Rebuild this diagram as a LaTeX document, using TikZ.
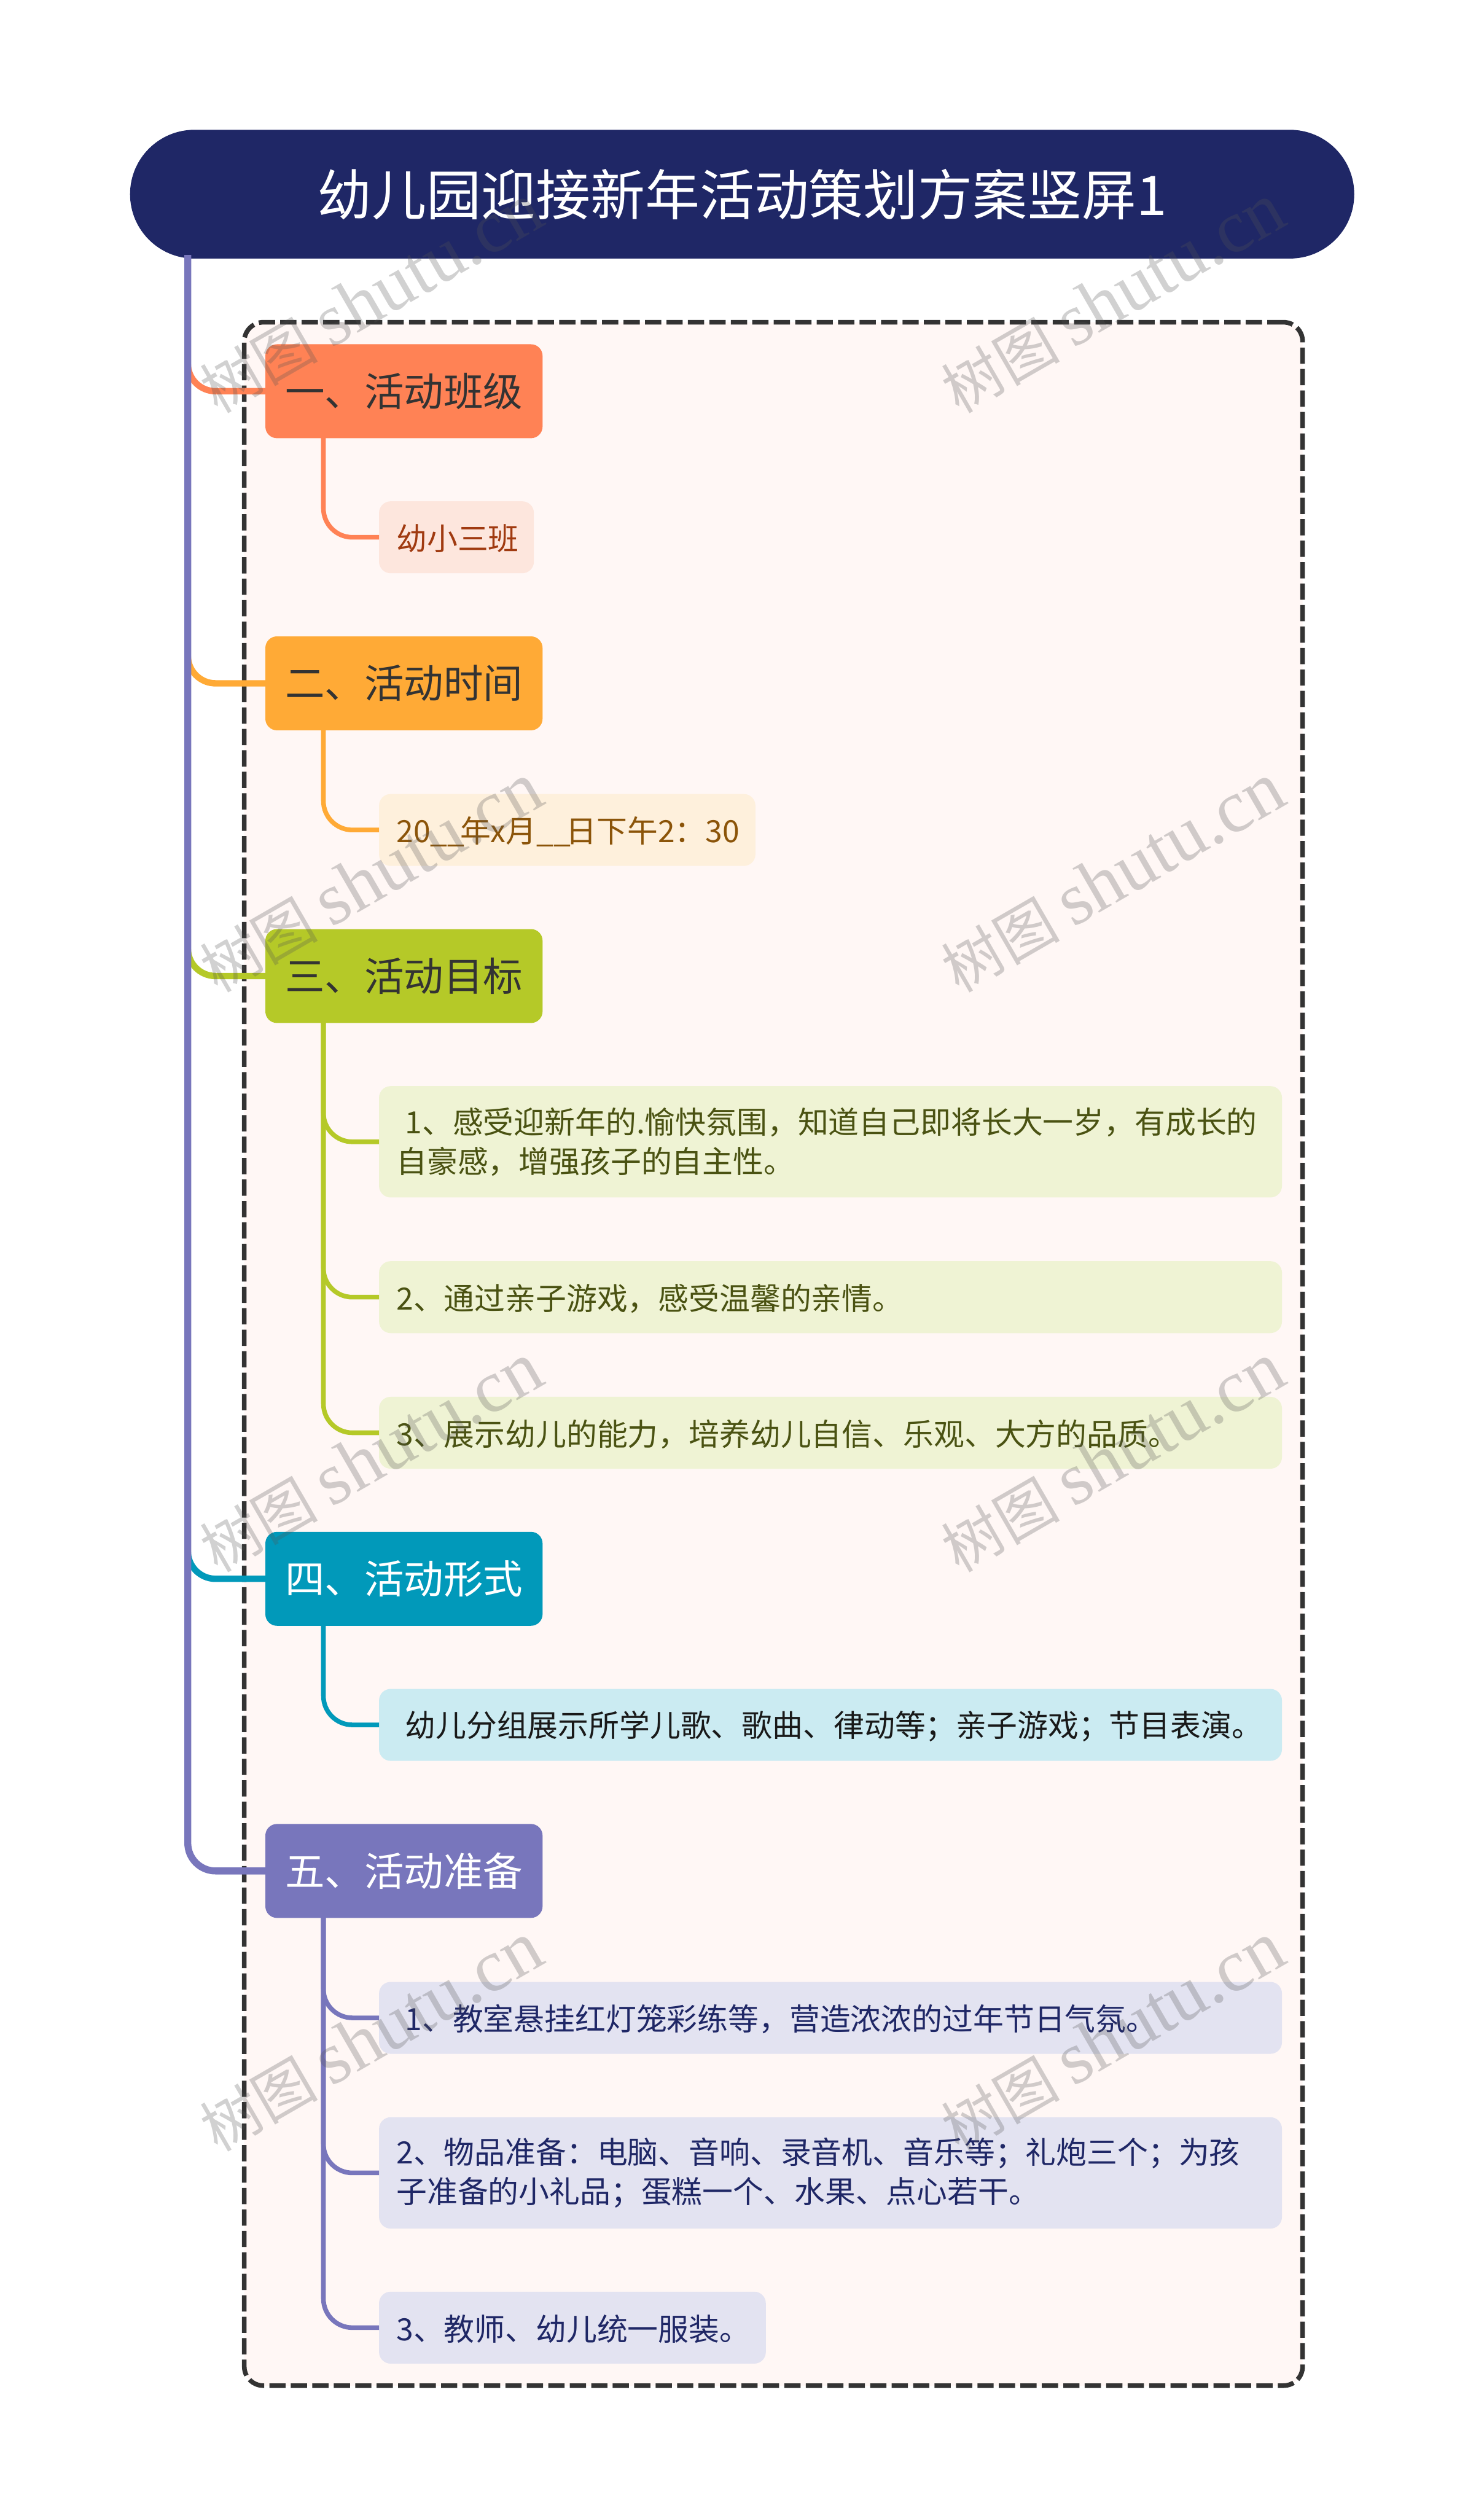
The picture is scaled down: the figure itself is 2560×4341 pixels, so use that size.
\documentclass[tikz,border=0pt]{standalone}
\usepackage{fontspec}
\setmainfont{Noto Sans CJK SC}
\newfontfamily\wmlatin{Liberation Serif}
\definecolor{titlefill}{HTML}{1F2766}
\definecolor{framefill}{HTML}{FFF7F5}
\definecolor{framedash}{HTML}{333333}
\definecolor{orangetop}{HTML}{FF8255}
\definecolor{orangesub}{HTML}{FDE6DD}
\definecolor{orangetxt}{HTML}{A03A10}
\definecolor{ambertop}{HTML}{FFAA36}
\definecolor{ambersub}{HTML}{FEF0DC}
\definecolor{ambertxt}{HTML}{8B5409}
\definecolor{limetop}{HTML}{B5C928}
\definecolor{limesub}{HTML}{EFF3D4}
\definecolor{limetxt}{HTML}{4A5212}
\definecolor{tealtop}{HTML}{0199BA}
\definecolor{tealsub}{HTML}{CBEBF2}
\definecolor{violettop}{HTML}{7876BC}
\definecolor{violetsub}{HTML}{E3E3F1}
\begin{document}
\begin{tikzpicture}[x=0.01cm,y=-0.01cm,
  titlebox/.style={rounded corners=1.11cm, inner sep=0, outer sep=0, fill=titlefill, text=white,
    minimum width=21.11cm, minimum height=2.22cm, font=\fontsize{26.8}{32}\selectfont},
  framebox/.style={rounded corners=0.33cm, inner sep=0, outer sep=0, fill=framefill, draw=framedash,
    line width=0.08cm, dash pattern=on 0.28cm off 0.09cm, minimum width=18.25cm, minimum height=35.58cm},
  topicbox/.style={rounded corners=0.2cm, inner sep=0, outer sep=0, text=black!80,
    minimum width=4.78cm, minimum height=1.62cm, font=\fontsize{19.45}{24}\selectfont},
  subbox/.style={rounded corners=0.2cm, inner xsep=0.3cm, inner ysep=0, outer sep=0, anchor=west, align=left,
    minimum height=1.24cm, font=\fontsize{15.02}{19.35}\selectfont},
  subone/.style={subbox, execute at begin node={\vspace*{-0.05cm}}},
  subtwo/.style={subbox, minimum height=1.92cm},
  trunkline/.style={line width=0.12cm, rounded corners=0.48cm},
  branchline/.style={line width=0.11cm, rounded corners=0.48cm},
  subline/.style={line width=0.08cm, rounded corners=0.5cm},
  watermark/.style={rotate=30, inner sep=0, text=black!67, opacity=0.27, font=\fontsize{29}{36}\selectfont}]
  \useasboundingbox (0,0) rectangle (2560,4341);

  %% dashed frame
  \node[framebox] (frame) at (1334.5,2336) {};

  %% topics
  \node[topicbox, fill=orangetop] (topicA) at (697,675) {一、活动班级};
  \node[topicbox, fill=ambertop] (topicB) at (697,1179) {二、活动时间};
  \node[topicbox, fill=limetop] (topicC) at (697,1684) {三、活动目标};
  \node[topicbox, fill=tealtop, text=white] (topicD) at (697,2724) {四、活动形式};
  \node[topicbox, fill=violettop, text=white] (topicE) at (697,3228) {五、活动准备};

  %% title
  \node[titlebox] (title) at (1280.5,335) {幼儿园迎接新年活动策划方案竖屏1};

  %% sub items
  \node[subone, fill=orangesub, text=orangetxt, text width=2.07cm] (subA) at (654,927) {幼小三班};
  \node[subone, fill=ambersub, text=ambertxt, text width=5.89cm] (subB) at (654,1432)
    {20\_\_\kern-0.15em 年x月\_\_\kern-0.15em 日下午2：30};
  \node[subtwo, fill=limesub, text=limetxt, text width=14.97cm] (subCa) at (654,1970)
    {\hspace*{0.15cm}1、感受迎新年的.愉快氛围，知道自己即将长大一岁，有成长的\\自豪感，增强孩子的自主性。};
  \node[subone, fill=limesub, text=limetxt, text width=14.97cm] (subCb) at (654,2238) {2、通过亲子游戏，感受温馨的亲情。};
  \node[subone, fill=limesub, text=limetxt, text width=14.97cm] (subCc) at (654,2472) {3、展示幼儿的能力，培养幼儿自信、乐观、大方的品质。};
  \node[subone, fill=tealsub, text=black!90, text width=14.97cm] (subD) at (654,2976)
    {\hspace*{0.15cm}幼儿分组展示所学儿歌、歌曲、律动等；亲子游戏；节目表演。};
  \node[subone, fill=violetsub, text=titlefill, text width=14.97cm] (subEa) at (654,3481.5)
    {\hspace*{0.15cm}1、教室悬挂红灯笼彩练等，营造浓浓的过年节日气氛。};
  \node[subtwo, fill=violetsub, text=titlefill, text width=14.97cm] (subEb) at (654,3749)
    {2、物品准备：电脑、音响、录音机、音乐等；礼炮三个；为孩\\子准备的小礼品；蛋糕一个、水果、点心若干。};
  \node[subone, fill=violetsub, text=titlefill, text width=6.07cm] (subEc) at (654,4016) {3、教师、幼儿统一服装。};

  %% connector starts
  \coordinate (trunktop) at (324,440);
  \coordinate (rootA) at (558,750);
  \coordinate (rootB) at (558,1255);
  \coordinate (rootC) at (558,1760);
  \coordinate (rootD) at (558,2800);
  \coordinate (rootE) at (558,3304);

  %% branches behind the trunk
  \draw[branchline, draw=orangetop] (trunktop) |- (topicA.west);
  \draw[branchline, draw=ambertop] (trunktop) |- (topicB.west);
  \draw[branchline, draw=limetop] (trunktop) |- (topicC.west);
  \draw[branchline, draw=tealtop] (trunktop) |- (topicD.west);
  \draw[trunkline, draw=violettop] (trunktop) |- (topicE.west);

  %% topic to sub item
  \draw[subline, draw=orangetop] (rootA) |- (subA.west);
  \draw[subline, draw=ambertop] (rootB) |- (subB.west);
  \draw[subline, draw=limetop] (rootC) |- (subCa.west);
  \draw[subline, draw=limetop] (rootC) |- (subCb.west);
  \draw[subline, draw=limetop] (rootC) |- (subCc.west);
  \draw[subline, draw=tealtop] (rootD) |- (subD.west);
  \draw[subline, draw=violettop] (rootE) |- (subEa.west);
  \draw[subline, draw=violettop] (rootE) |- (subEb.west);
  \draw[subline, draw=violettop] (rootE) |- (subEc.west);

  %% watermarks
  \node[watermark] (markLa) at (640,515) {树图 {\wmlatin\fontsize{36.5}{36}\selectfont shutu.cn}};
  \node[watermark] (markRa) at (1920,515) {树图 {\wmlatin\fontsize{36.5}{36}\selectfont shutu.cn}};
  \node[watermark] (markLb) at (640,1515) {树图 {\wmlatin\fontsize{36.5}{36}\selectfont shutu.cn}};
  \node[watermark] (markRb) at (1920,1515) {树图 {\wmlatin\fontsize{36.5}{36}\selectfont shutu.cn}};
  \node[watermark] (markLc) at (640,2515) {树图 {\wmlatin\fontsize{36.5}{36}\selectfont shutu.cn}};
  \node[watermark] (markRc) at (1920,2515) {树图 {\wmlatin\fontsize{36.5}{36}\selectfont shutu.cn}};
  \node[watermark] (markLd) at (640,3515) {树图 {\wmlatin\fontsize{36.5}{36}\selectfont shutu.cn}};
  \node[watermark] (markRd) at (1920,3515) {树图 {\wmlatin\fontsize{36.5}{36}\selectfont shutu.cn}};
  \node[watermark] (markLe) at (640,4515) {树图 {\wmlatin\fontsize{36.5}{36}\selectfont shutu.cn}};
  \node[watermark] (markRe) at (1920,4515) {树图 {\wmlatin\fontsize{36.5}{36}\selectfont shutu.cn}};

\end{tikzpicture}
\end{document}
